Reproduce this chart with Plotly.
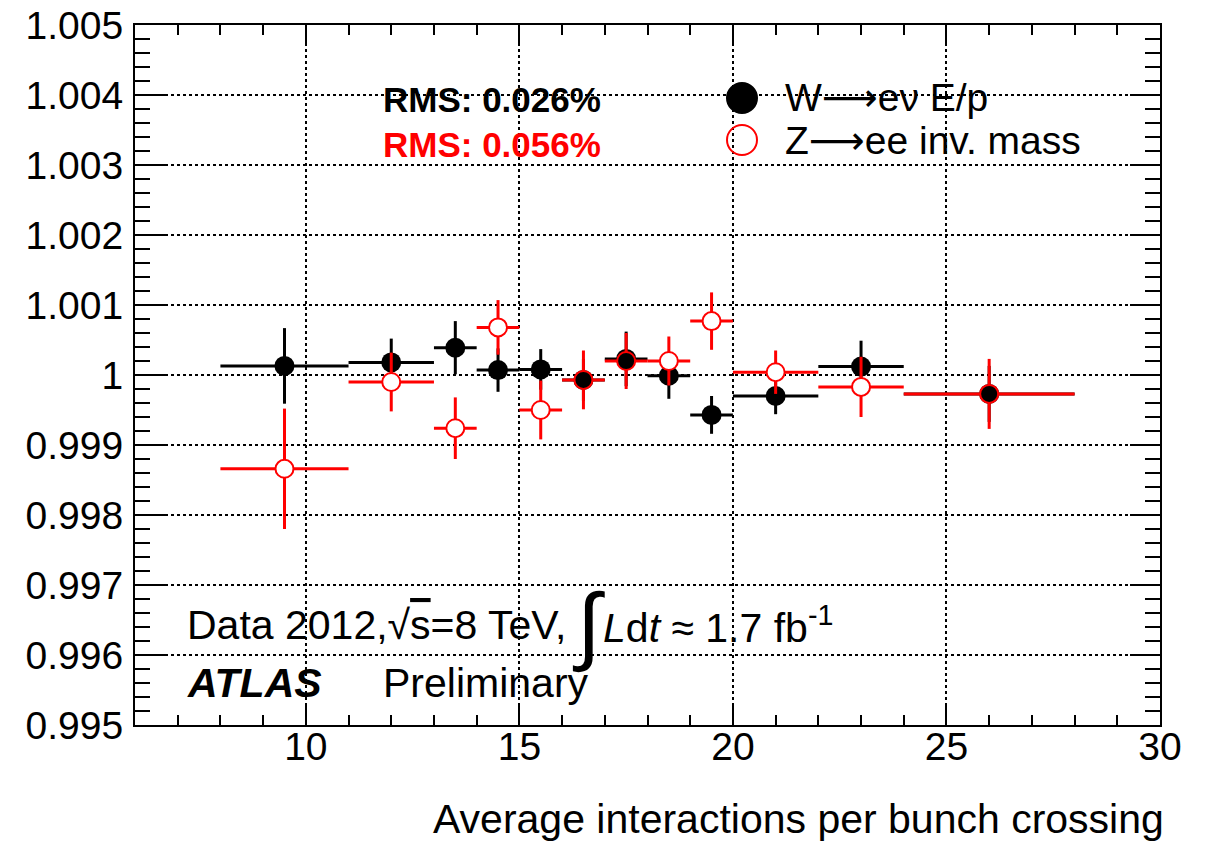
import plotly.graph_objects as go

# Bin centres and half-widths in <mu>
mu_centres = [9.5, 12, 13.5, 14.5, 15.5, 16.5, 17.5, 18.5, 19.5, 21, 23, 26]
mu_halfwidth = [1.5, 1, 0.5, 0.5, 0.5, 0.5, 0.5, 0.5, 0.5, 1, 1, 2]

# W -> e nu E/p energy-scale ratio
w_ep = [1.00013, 1.00018, 1.00039, 1.00007, 1.00008, 0.99993,
        1.00023, 0.99999, 0.99943, 0.99970, 1.00012, 0.99973]
w_ep_err = [0.00054, 0.00034, 0.00038, 0.00031, 0.00029, 0.00030,
            0.00039, 0.00033, 0.00027, 0.00026, 0.00037, 0.00040]

# Z -> ee invariant-mass ratio
z_mass = [0.99866, 0.99990, 0.99924, 1.00068, 0.99950, 0.99993,
          1.00020, 1.00020, 1.00077, 1.00004, 0.99983, 0.99973]
z_mass_err = [0.00086, 0.00042, 0.00044, 0.00039, 0.00042, 0.00042,
              0.00040, 0.00035, 0.00041, 0.00031, 0.00043, 0.00050]

# open-circle interior: white, except where the W marker sits underneath
z_fill = ["white", "white", "white", "white", "white", "black",
          "black", "white", "white", "white", "white", "black"]

FONT = "Liberation Sans, Arial, Helvetica, sans-serif"
ARROW = "<span style='font-family:DejaVu Sans'>\u27f6</span>"

fig = go.Figure()

fig.add_trace(go.Scatter(
    x=mu_centres, y=w_ep, mode="markers",
    marker=dict(symbol="circle", size=20, color="black", line=dict(width=0)),
    error_x=dict(type="data", array=mu_halfwidth, color="black", thickness=3, width=0),
    error_y=dict(type="data", array=w_ep_err, color="black", thickness=3, width=0),
    showlegend=False,
))

fig.add_trace(go.Scatter(
    x=mu_centres, y=z_mass, mode="markers",
    marker=dict(symbol="circle", size=18, color=z_fill, line=dict(width=2, color="red")),
    error_x=dict(type="data", array=mu_halfwidth, color="red", thickness=3, width=0),
    error_y=dict(type="data", array=z_mass_err, color="red", thickness=3, width=0),
    showlegend=False,
))

L, R, T, B = 135, 56, 25, 118
W, H = 1216, 843
pw, ph = W - L - R, H - T - B


def px(xp):
    return (xp - L) / pw


def py(yp):
    return (H - B - yp) / ph


axis_common = dict(
    showline=True, linewidth=2, linecolor="black", mirror="ticks",
    ticks="inside", tickwidth=2, tickcolor="black",
    showgrid=True, gridcolor="black", gridwidth=1.5, griddash="dot",
    zeroline=False, automargin=False,
    tickfont=dict(family=FONT, size=39, color="black"),
)

fig.update_xaxes(
    range=[6, 30], tickmode="linear", tick0=0, dtick=5, ticklen=21,
    minor=dict(dtick=1, tick0=0, ticklen=10, ticks="inside", tickwidth=2,
               tickcolor="black", showgrid=False),
    ticklabelstandoff=-14,
    **axis_common,
)
fig.update_yaxes(
    range=[0.995, 1.005], tickmode="linear", tick0=0.995, dtick=0.001,
    tickformat="~g", ticklen=30,
    minor=dict(dtick=0.0002, tick0=0.995, ticklen=15, ticks="inside", tickwidth=2,
               tickcolor="black", showgrid=False),
    ticklabelstandoff=2,
    **axis_common,
)

annotations = []


def text(x, y, s, size=41, color="black", xanchor="left", yanchor="middle"):
    annotations.append(dict(
        x=px(x), y=py(y), xref="paper", yref="paper", text=s, showarrow=False,
        xanchor=xanchor, yanchor=yanchor,
        font=dict(family=FONT, size=size, color=color),
    ))


# x-axis title, right-aligned under the frame
text(1166, 819, "Average interactions per bunch crossing", size=41, xanchor="right")

# RMS summaries
text(381, 100, "<b>RMS: 0.026%</b>", size=35)
text(381, 145, "<b>RMS: 0.056%</b>", size=35, color="red")

# legend entries
text(783, 97, "W" + ARROW + "e\u03bd E/p", size=39)
text(783, 140, "Z" + ARROW + "ee inv. mass", size=39)

# data-set description
text(185, 625, "Data 2012,\u221a<span style='text-decoration:overline'>s</span>=8 TeV,", size=41)
text(570, 624, "\u222b", size=86)
text(601, 625, "<i>L</i>d<i>t</i> \u2248 1.7 fb<sup>-1</sup>", size=41)
text(185, 683, "<b><i>ATLAS</i></b>", size=41)
text(381, 683, "Preliminary", size=41)

# legend marker symbols
shapes = []
rx, ry = 15 / pw, 15 / ph
lx = px(742)
for yc, fill, line in [(py(98), "black", "black"), (py(140), "rgba(0,0,0,0)", "red")]:
    shapes.append(dict(type="circle", xref="paper", yref="paper",
                       x0=lx - rx, x1=lx + rx, y0=yc - ry, y1=yc + ry,
                       fillcolor=fill, line=dict(color=line, width=2)))

fig.update_layout(
    width=W, height=H,
    margin=dict(l=L, r=R, t=T, b=B, autoexpand=False),
    paper_bgcolor="white", plot_bgcolor="white",
    annotations=annotations, shapes=shapes,
    font=dict(family=FONT, color="black"),
)

fig.write_html("out.html")
